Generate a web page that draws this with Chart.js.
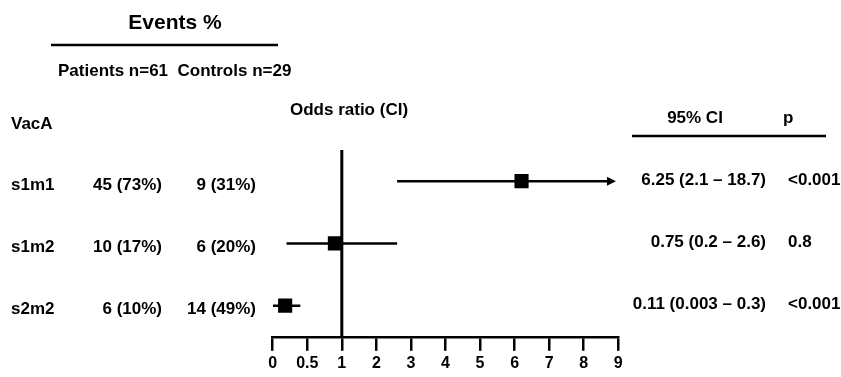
<!DOCTYPE html>
<html>
<head>
<meta charset="utf-8">
<script src="https://cdn.jsdelivr.net/npm/chart.js@4"></script>
<style>
  body { margin: 0; background: #fff; }
  canvas { display: block; }
</style>
</head>
<body>
<canvas id="forest" width="841" height="377"></canvas>
<script>
// rows of the table
var groups = ['s1m1', 's1m2', 's2m2']
var patients = ['45 (73%)', '10 (17%)', '6 (10%)']
var controls = ['9 (31%)', '6 (20%)', '14 (49%)']
var ciText = ['6.25 (2.1 \u2013 18.7)', '0.75 (0.2 \u2013 2.6)', '0.11 (0.003 \u2013 0.3)']
var pText = ['<0.001', '0.8', '<0.001']

// where the marks sit on the odds ratio axis
var orPlot = [6.2, 0.9, 0.18]
var ciLo = [2.6, 0.2, 0.003]
var ciHi = [18.7, 2.6, 0.4]
var arrowCap = 8.7

var tickLabels = ['0', '0.5', '1', '2', '3', '4', '5', '6', '7', '8', '9']

// axis is evenly spaced per tick: 0..1 in half steps, then whole steps
function toAxis(v) {
    return v <= 1 ? v * 2 : v + 1
}

var FONT = '"Liberation Sans", Arial, sans-serif'
Chart.defaults.font.family = FONT
Chart.defaults.font.weight = 'bold'
Chart.defaults.color = '#000'

var datasets = []
for (i = 0; i < groups.length; i++) {
    datasets.push({
        type: 'line',
        data: [
            { x: toAxis(ciLo[i]), y: groups[i] },
            { x: toAxis(Math.min(ciHi[i], arrowCap)), y: groups[i] }
        ],
        borderColor: '#000',
        borderWidth: 2.5,
        pointRadius: 0,
        yAxisID: 'y'
    })
}
datasets.push({
    type: 'line',
    data: [{ x: toAxis(1), y: 0 }, { x: toAxis(1), y: 1 }],
    borderColor: '#000',
    borderWidth: 3,
    pointRadius: 0,
    yAxisID: 'y2'
})
datasets.push({
    type: 'scatter',
    data: orPlot.map((v, i) => ({ x: toAxis(v), y: groups[i] })),
    pointStyle: 'rect',
    pointRadius: 10,
    backgroundColor: '#000',
    borderWidth: 0,
    yAxisID: 'y'
})

function txt(ctx, s, x, y, size, align) {
    ctx.font = 'bold ' + size + 'px ' + FONT
    ctx.textAlign = align || 'left'
    ctx.textBaseline = 'middle'
    ctx.fillText(s, x, y)
}

function hline(ctx, x1, x2, y) {
    ctx.beginPath()
    ctx.moveTo(x1, y)
    ctx.lineTo(x2, y)
    ctx.lineWidth = 2.5
    ctx.strokeStyle = '#000'
    ctx.stroke()
}

var tablePlugin = {
    id: 'table',
    afterDatasetsDraw(chart) {
        var ctx = chart.ctx
        var yScale = chart.scales.y
        ctx.save()
        ctx.fillStyle = '#000'

        // arrow on the truncated interval
        for (i = 0; i < groups.length; i++) {
            if (ciHi[i] > arrowCap) {
                var pt = chart.getDatasetMeta(i).data[1]
                ctx.beginPath()
                ctx.moveTo(pt.x + 8, pt.y)
                ctx.lineTo(pt.x - 1, pt.y - 4.5)
                ctx.lineTo(pt.x - 1, pt.y + 4.5)
                ctx.closePath()
                ctx.fill()
            }
        }

        txt(ctx, 'Events %', 175, 23, 21, 'center')
        hline(ctx, 51, 278, 45)
        txt(ctx, 'Patients n=61  Controls n=29', 58, 71, 17)
        txt(ctx, 'VacA', 11, 124, 17)
        txt(ctx, 'Odds ratio (CI)', 290, 110, 17)
        txt(ctx, '95% CI', 695, 118, 17, 'center')
        txt(ctx, 'p', 783, 118, 17)
        hline(ctx, 632, 826, 136)

        for (i = 0; i < groups.length; i++) {
            var y = yScale.getPixelForValue(i)
            txt(ctx, groups[i], 11, y + 4, 17)
            txt(ctx, patients[i], 162, y + 4, 17, 'right')
            txt(ctx, controls[i], 256, y + 4, 17, 'right')
            txt(ctx, ciText[i], 766, y - 1, 17, 'right')
            txt(ctx, pText[i], 788, y - 1, 17)
        }
        ctx.restore()
    }
}

new Chart(document.getElementById('forest').getContext('2d'), {
    type: 'scatter',
    data: { datasets: datasets },
    options: {
        responsive: false,
        animation: false,
        layout: {
            padding: { left: 272.7, right: 222.7, top: 150, bottom: 1 }
        },
        plugins: {
            legend: { display: false },
            tooltip: { enabled: false }
        },
        scales: {
            x: {
                type: 'linear',
                min: 0,
                max: 10,
                afterBuildTicks: (scale) => {
                    scale.ticks = tickLabels.map((_, i) => ({ value: i }))
                },
                ticks: {
                    autoSkip: false,
                    maxRotation: 0,
                    padding: 3,
                    font: { size: 16, weight: 'bold' },
                    callback: (value, index) => tickLabels[index]
                },
                grid: {
                    drawOnChartArea: false,
                    drawTicks: true,
                    tickLength: 14,
                    lineWidth: 2.5,
                    color: '#000'
                },
                border: { display: true, width: 2.5, color: '#000' }
            },
            y: {
                type: 'category',
                labels: groups,
                offset: true,
                display: false
            },
            y2: {
                type: 'linear',
                min: 0,
                max: 1,
                display: false
            }
        }
    },
    plugins: [tablePlugin]
})
</script>
</body>
</html>
